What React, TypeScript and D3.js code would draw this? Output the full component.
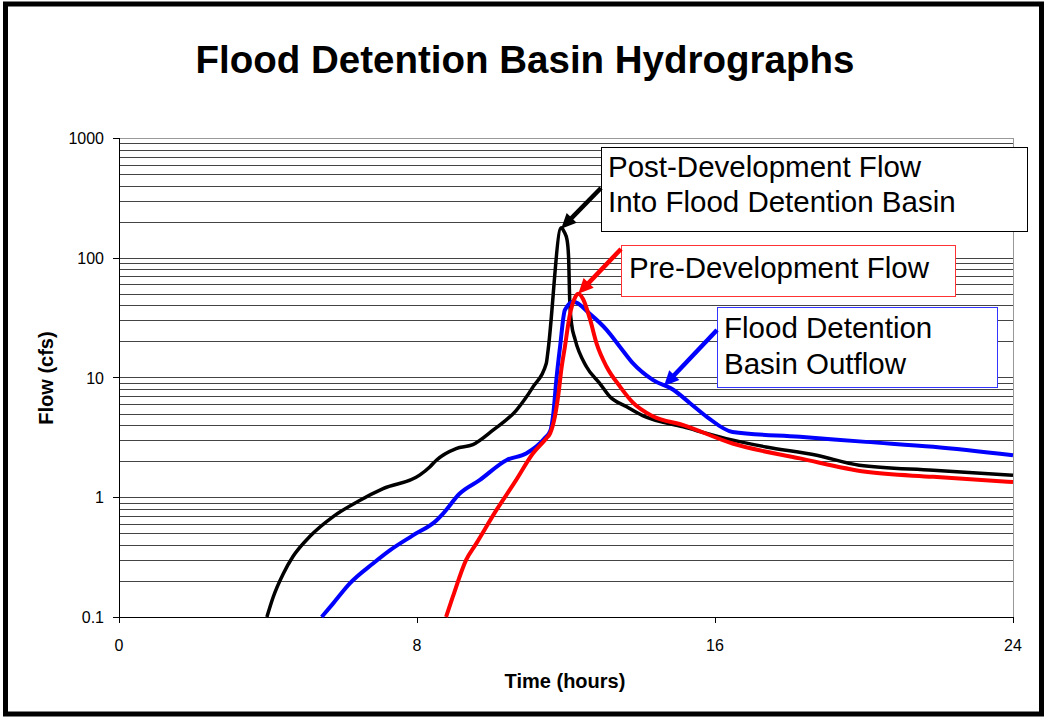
import { useEffect, useRef } from "react"
import * as d3 from "d3"

// Post-development inflow (black)
const postTime = [3.97, 4.14, 4.41, 4.67, 5.12, 5.75, 6.46, 7.09, 8.07, 8.35, 8.52, 9.05, 9.5, 10.04, 10.66, 11.11, 11.47, 11.52, 11.87, 11.95, 12.03, 12.07, 12.1, 12.15, 12.24, 12.55, 12.91, 13.18, 13.63, 14.06, 15.15, 16.3, 17.37, 18.73, 19.87, 21.86, 24]
const postFlow = [0.1, 0.147, 0.23, 0.32, 0.47, 0.69, 0.94, 1.18, 1.53, 1.8, 2.04, 2.55, 2.75, 3.63, 5.3, 8.3, 13.1, 17, 178, 165, 140, 100, 44, 28, 21, 12.3, 8.9, 6.9, 5.7, 4.8, 3.87, 3.09, 2.63, 2.24, 1.85, 1.68, 1.53]

// Pre-development flow (red)
const preTime = [8.78, 8.96, 9.32, 9.59, 10.13, 10.66, 11.11, 11.47, 11.57, 11.7, 11.8, 11.88, 11.97, 12.1, 12.25, 12.33, 12.46, 12.64, 12.82, 13.09, 13.45, 13.79, 14.33, 15.15, 16.47, 18.28, 20.05, 21.86, 24]
const preFlow = [0.1, 0.147, 0.3, 0.41, 0.78, 1.39, 2.32, 3.1, 3.4, 4.7, 7.4, 12, 18, 33, 47, 50, 45, 31, 19.3, 12.3, 8.4, 6.2, 4.75, 4.0, 2.81, 2.11, 1.63, 1.48, 1.34]

// Basin outflow (blue)
const outTime = [5.44, 5.75, 6.19, 6.82, 7.27, 7.89, 8.52, 8.7, 9.14, 9.68, 10.4, 10.93, 11.42, 11.58, 11.66, 11.74, 11.84, 11.97, 12.2, 12.64, 13.09, 13.45, 13.8, 14.34, 14.88, 15.33, 15.78, 16.47, 18.28, 20.05, 21.86, 24]
const outFlow = [0.1, 0.13, 0.19, 0.28, 0.36, 0.48, 0.64, 0.73, 1.07, 1.39, 2.04, 2.32, 3.09, 3.6, 5.0, 9.5, 18, 36.6, 43, 34, 25, 18, 13.1, 9.5, 7.9, 6.1, 4.7, 3.51, 3.2, 2.9, 2.64, 2.24]

const xTicks = [0, 8, 16, 24]
const yTicks = [0.1, 1, 10, 100, 1000]

const font = "Arial, 'Liberation Sans', sans-serif"

export default function App() {
  const svgRef = useRef<SVGSVGElement>(null)

  useEffect(() => {
    if (!svgRef.current) return
    const W = 1045
    const H = 717
    const left = 119
    const right = 1013
    const top = 138
    const bottom = 617

    const svg = d3.select(svgRef.current)
    svg.selectAll("*").remove()
    svg.attr("width", W).attr("height", H)

    svg.append("rect").attr("width", W).attr("height", H).attr("fill", "#fff")

    const x = d3.scaleLinear().domain([0, 24]).range([left, right])
    const y = d3.scaleLog().domain([0.1, 1000]).range([bottom, top])

    // gridlines, 1..9 per decade
    const grid: number[] = []
    for (const d of [0.1, 1, 10, 100]) for (let m = 1; m <= 9; m++) grid.push(+(m * d).toPrecision(3))
    grid.push(1000)

    svg
      .append("g")
      .selectAll("line")
      .data(grid)
      .join("line")
      .attr("x1", left)
      .attr("x2", right)
      .attr("y1", (d) => Math.round(y(d)) + 0.5)
      .attr("y2", (d) => Math.round(y(d)) + 0.5)
      .attr("stroke", (d) => (d === 1000 ? "#999" : "#444"))
      .attr("stroke-width", 1)

    // plot right border
    svg
      .append("line")
      .attr("x1", right + 0.5)
      .attr("x2", right + 0.5)
      .attr("y1", top)
      .attr("y2", bottom)
      .attr("stroke", "#999")

    // axes
    svg
      .append("line")
      .attr("x1", left + 0.5)
      .attr("x2", left + 0.5)
      .attr("y1", top)
      .attr("y2", bottom + 6)
      .attr("stroke", "#000")
    svg
      .append("line")
      .attr("x1", left)
      .attr("x2", right + 1)
      .attr("y1", bottom + 0.5)
      .attr("y2", bottom + 0.5)
      .attr("stroke", "#000")

    // y ticks
    svg
      .append("g")
      .selectAll("line")
      .data(yTicks)
      .join("line")
      .attr("x1", left - 6)
      .attr("x2", left)
      .attr("y1", (d) => Math.round(y(d)) + 0.5)
      .attr("y2", (d) => Math.round(y(d)) + 0.5)
      .attr("stroke", "#000")
    svg
      .append("g")
      .selectAll("text")
      .data(yTicks)
      .join("text")
      .attr("x", left - 15)
      .attr("y", (d) => y(d) + 6)
      .attr("text-anchor", "end")
      .style("font-family", font)
      .style("font-size", "16px")
      .text((d) => String(d))

    // x ticks
    svg
      .append("g")
      .selectAll("line")
      .data(xTicks)
      .join("line")
      .attr("x1", (d) => Math.round(x(d)) + 0.5)
      .attr("x2", (d) => Math.round(x(d)) + 0.5)
      .attr("y1", bottom)
      .attr("y2", bottom + 6)
      .attr("stroke", "#000")
    svg
      .append("g")
      .selectAll("text")
      .data(xTicks)
      .join("text")
      .attr("x", (d) => x(d))
      .attr("y", bottom + 34)
      .attr("text-anchor", "middle")
      .style("font-family", font)
      .style("font-size", "16px")
      .text((d) => String(d))

    // series
    const line = d3
      .line<[number, number]>()
      .x((d) => x(d[0]))
      .y((d) => y(d[1]))
      .curve(d3.curveMonotoneX)
    const series = [
      { t: postTime, f: postFlow, color: "#000000", w: 3.5 },
      { t: outTime, f: outFlow, color: "#0000ff", w: 4 },
      { t: preTime, f: preFlow, color: "#ff0000", w: 4 },
    ]
    series.forEach((s) => {
      svg
        .append("path")
        .datum(s.t.map((t, i) => [t, s.f[i]] as [number, number]))
        .attr("d", line)
        .attr("fill", "none")
        .attr("stroke", s.color)
        .attr("stroke-width", s.w)
        .attr("stroke-linejoin", "round")
    })

    // annotations
    const notes = [
      { lines: ["Post-Development Flow", "Into Flood Detention Basin"], color: "#000", border: "#000", box: [601, 147, 426, 84], tx: 608, ty: [177, 212], tail: [601, 188], tip: [11.87, 175] },
      { lines: ["Pre-Development Flow"], color: "#ff0000", border: "#ff3333", box: [621, 245, 334, 51], tx: 629, ty: [278], tail: [621, 249], tip: [12.33, 50] },
      { lines: ["Flood Detention", "Basin Outflow"], color: "#0000ff", border: "#3333ff", box: [717, 307, 280, 80], tx: 724, ty: [338, 374], tail: [717, 330], tip: [14.63, 8.5] },
    ]
    notes.forEach((n) => {
      svg
        .append("rect")
        .attr("x", n.box[0] + 0.5)
        .attr("y", n.box[1] + 0.5)
        .attr("width", n.box[2])
        .attr("height", n.box[3])
        .attr("fill", "#fff")
        .attr("stroke", n.border)
        .attr("stroke-width", 1)
      const g = svg.append("g")
      n.lines.forEach((l, i) => {
        g.append("text")
          .attr("x", n.tx)
          .attr("y", n.ty[i])
          .style("font-family", font)
          .style("font-size", "29.5px")
          .text(l)
      })
      const tx = x(n.tip[0])
      const ty = y(n.tip[1])
      const dx = tx - n.tail[0]
      const dy = ty - n.tail[1]
      const len = Math.hypot(dx, dy)
      const ux = dx / len
      const uy = dy / len
      const hl = 15
      const hw = 7
      const bx = tx - ux * hl
      const by = ty - uy * hl
      svg
        .append("line")
        .attr("x1", n.tail[0])
        .attr("y1", n.tail[1])
        .attr("x2", bx + ux * 2)
        .attr("y2", by + uy * 2)
        .attr("stroke", n.color)
        .attr("stroke-width", 4.5)
      svg
        .append("path")
        .attr("d", `M${tx},${ty}L${bx - uy * hw},${by + ux * hw}L${bx + uy * hw},${by - ux * hw}Z`)
        .attr("fill", n.color)
    })

    // title and axis titles
    svg
      .append("text")
      .attr("x", 525)
      .attr("y", 73)
      .attr("text-anchor", "middle")
      .style("font-family", font)
      .style("font-size", "38.5px")
      .style("font-weight", "bold")
      .text("Flood Detention Basin Hydrographs")
    svg
      .append("text")
      .attr("x", 565)
      .attr("y", 688)
      .attr("text-anchor", "middle")
      .style("font-family", font)
      .style("font-size", "20px")
      .style("font-weight", "bold")
      .text("Time (hours)")
    svg
      .append("text")
      .attr("transform", "translate(53,378) rotate(-90)")
      .attr("text-anchor", "middle")
      .style("font-family", font)
      .style("font-size", "20px")
      .style("font-weight", "bold")
      .text("Flow (cfs)")

    // outer frame
    svg
      .append("rect")
      .attr("x", 5.5)
      .attr("y", 4)
      .attr("width", 1036)
      .attr("height", 710)
      .attr("fill", "none")
      .attr("stroke", "#000")
      .attr("stroke-width", 5)
  }, [])

  return (
    <div style={{ position: "absolute", left: 0, top: 0 }}>
      <svg ref={svgRef} style={{ display: "block" }}></svg>
    </div>
  )
}
